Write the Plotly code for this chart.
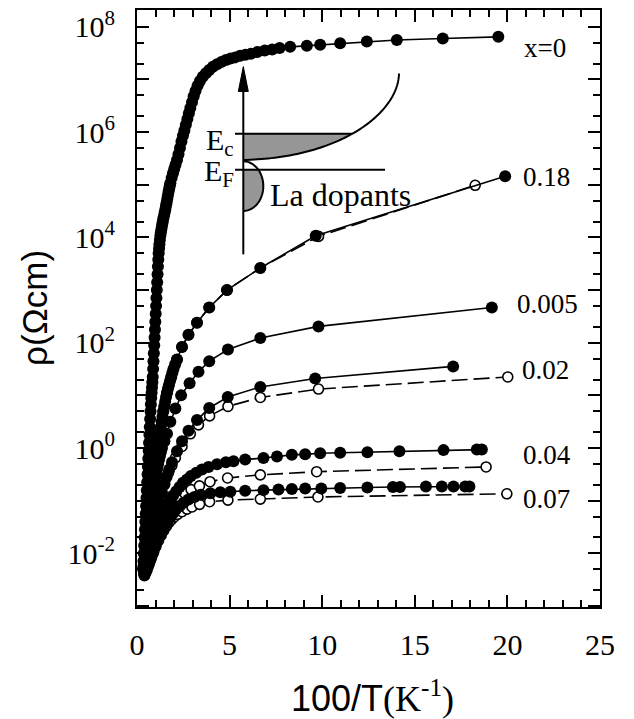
import numpy as np
import plotly.graph_objects as go

# ---------------- data (y stored as log10(rho / Ohm cm)) -------------
x_x0 = [0.33,0.35,0.37,0.39,0.41,0.43,0.45,0.47,0.49,0.51,0.53,0.55,0.57,0.59,0.61,0.63,0.65,0.67,0.69,0.71,0.73,0.75,0.77,0.79,0.81,0.83,0.85,0.87,0.89,0.91,0.93,0.95,0.97,0.99,1.01,1.03,1.05,1.07,1.09,1.11,1.13,1.15,1.17,1.19,1.21,1.235,1.26,1.29,1.32,1.35,1.38,1.41,1.45,1.49,1.53,1.565,1.60,1.635,1.67,1.705,1.74,1.77,1.80,1.87,1.94,2.01,2.08,2.16,2.24,2.32,2.40,2.48,2.56,2.64,2.72,2.80,2.88,2.97,3.06,3.16,3.27,3.40,3.55,3.72,3.90,4.10,4.32,4.55,4.80,5.05,5.30,5.57,5.85,6.15,6.50,6.90,7.30,7.70,8.27,9.17,9.89,10.97,12.41,14.03,16.51,19.51]
lg_x0 = [-2.3,-2.15,-2.0,-1.85,-1.7,-1.55,-1.4,-1.25,-1.1,-0.95,-0.8,-0.65,-0.5,-0.35,-0.2,-0.05,0.1,0.25,0.4,0.55,0.7,0.83,0.95,1.05,1.15,1.25,1.35,1.5,1.65,1.8,1.95,2.1,2.25,2.4,2.55,2.7,2.85,3.0,3.15,3.3,3.45,3.58,3.7,3.79,3.87,3.95,4.03,4.1,4.16,4.22,4.28,4.34,4.4,4.47,4.53,4.6,4.66,4.73,4.8,4.87,4.93,4.98,5.03,5.13,5.22,5.3,5.38,5.47,5.58,5.7,5.82,5.93,6.03,6.14,6.25,6.36,6.46,6.57,6.68,6.78,6.88,6.97,7.05,7.12,7.18,7.24,7.29,7.33,7.37,7.40,7.42,7.45,7.47,7.49,7.52,7.55,7.57,7.60,7.62,7.64,7.66,7.69,7.72,7.75,7.78,7.81]

x_018f = [0.35,0.375,0.40,0.425,0.45,0.475,0.50,0.525,0.55,0.58,0.61,0.64,0.67,0.70,0.73,0.765,0.80,0.835,0.87,0.905,0.94,0.975,1.01,1.045,1.08,1.12,1.16,1.20,1.24,1.285,1.33,1.375,1.42,1.47,1.52,1.57,1.62,1.675,1.73,1.79,1.85,1.91,1.97,2.06,2.16,2.43,2.78,3.24,3.90,4.86,6.66,9.65,19.88]
lg_018f = [-2.3,-2.22,-2.15,-2.07,-2.0,-1.92,-1.85,-1.77,-1.7,-1.6,-1.5,-1.4,-1.3,-1.2,-1.1,-1.0,-0.9,-0.8,-0.7,-0.6,-0.5,-0.4,-0.3,-0.2,-0.1,0.0,0.1,0.2,0.3,0.4,0.5,0.6,0.7,0.79,0.88,0.97,1.05,1.13,1.2,1.28,1.35,1.43,1.5,1.59,1.68,1.92,2.15,2.38,2.67,3.0,3.42,4.03,5.16]
x_018o = [0.35,0.45,0.55,0.67,0.80,0.94,1.08,1.24,1.42,1.62,1.85,2.16,2.43,2.78,3.24,3.90,4.86,6.66,9.80,18.26]
lg_018o = [-2.3,-2.0,-1.7,-1.3,-0.9,-0.5,-0.1,0.3,0.7,1.05,1.35,1.68,1.92,2.15,2.38,2.67,3.0,3.42,4.02,4.99]

x_005 = [0.35,0.385,0.42,0.455,0.49,0.525,0.56,0.595,0.63,0.665,0.70,0.735,0.77,0.805,0.84,0.875,0.91,0.945,0.98,1.02,1.06,1.10,1.14,1.19,1.24,1.295,1.35,1.48,1.62,1.80,2.07,2.38,2.84,3.32,3.90,4.91,6.66,9.80,19.16]
lg_005 = [-2.25,-2.17,-2.1,-2.02,-1.95,-1.87,-1.78,-1.69,-1.6,-1.5,-1.4,-1.3,-1.2,-1.1,-1.0,-0.9,-0.8,-0.71,-0.62,-0.53,-0.45,-0.37,-0.3,-0.22,-0.15,-0.07,0.0,0.13,0.27,0.5,0.75,1.0,1.23,1.45,1.65,1.87,2.09,2.31,2.67]

x_002f = [0.36,0.40,0.45,0.51,0.58,0.66,0.74,0.83,0.92,1.02,1.12,1.23,1.35,1.47,1.60,1.74,1.89,2.16,2.43,2.78,3.24,3.90,4.90,6.66,9.62,17.07]
lg_002f = [-2.3,-2.26,-2.22,-2.15,-2.08,-1.97,-1.85,-1.7,-1.55,-1.38,-1.2,-1.02,-0.85,-0.7,-0.55,-0.41,-0.27,-0.06,0.13,0.33,0.53,0.76,0.97,1.16,1.32,1.55]
x_002o = [0.38,0.48,0.60,0.72,0.86,1.00,1.15,1.32,1.50,1.70,1.88,2.07,2.43,2.88,3.32,3.92,4.91,6.66,9.80,20.02]
lg_002o = [-2.32,-2.2,-2.05,-1.87,-1.65,-1.42,-1.18,-0.92,-0.68,-0.47,-0.33,-0.19,0.03,0.27,0.44,0.61,0.79,0.96,1.12,1.35]

x_004f = [0.38,0.44,0.50,0.565,0.63,0.695,0.76,0.83,0.90,0.975,1.05,1.125,1.20,1.275,1.35,1.50,1.65,1.80,1.95,2.12,2.30,2.48,2.70,2.91,3.20,3.51,3.86,4.32,4.80,5.21,5.84,6.83,7.56,8.36,9.08,9.89,10.97,12.44,14.17,16.55,18.35,18.62]
lg_004f = [-2.38,-2.33,-2.27,-2.2,-2.13,-2.06,-1.98,-1.89,-1.80,-1.71,-1.62,-1.53,-1.45,-1.37,-1.30,-1.18,-1.07,-0.98,-0.90,-0.82,-0.74,-0.66,-0.60,-0.53,-0.47,-0.41,-0.36,-0.31,-0.27,-0.25,-0.22,-0.19,-0.16,-0.13,-0.12,-0.10,-0.09,-0.08,-0.06,-0.04,-0.03,-0.03]
x_004o = [0.40,0.52,0.65,0.78,0.92,1.06,1.21,1.37,1.54,1.72,1.90,2.07,2.30,2.58,2.92,3.37,3.94,4.89,6.66,9.70,18.85]
lg_004o = [-2.36,-2.24,-2.08,-1.92,-1.76,-1.61,-1.47,-1.35,-1.24,-1.15,-1.08,-1.02,-0.94,-0.86,-0.79,-0.72,-0.64,-0.57,-0.51,-0.45,-0.36]

x_007f = [0.40,0.46,0.52,0.585,0.65,0.715,0.78,0.845,0.91,0.975,1.04,1.17,1.30,1.44,1.62,1.80,1.98,2.12,2.30,2.52,2.78,3.10,3.45,3.96,4.50,5.04,5.84,6.83,7.64,8.36,9.08,9.95,10.97,12.44,13.82,14.20,15.60,16.46,17.09,17.72,17.95]
lg_007f = [-2.42,-2.37,-2.32,-2.26,-2.2,-2.13,-2.07,-2.0,-1.94,-1.87,-1.81,-1.7,-1.62,-1.54,-1.42,-1.32,-1.23,-1.16,-1.10,-1.04,-0.98,-0.93,-0.89,-0.86,-0.84,-0.83,-0.81,-0.80,-0.79,-0.78,-0.77,-0.77,-0.76,-0.75,-0.74,-0.74,-0.73,-0.73,-0.73,-0.73,-0.73]
x_007o = [0.42,0.52,0.62,0.75,0.88,1.02,1.16,1.30,1.44,1.58,1.72,1.86,2.01,2.19,2.43,2.70,2.97,3.38,3.92,4.91,6.66,9.77,19.97]
lg_007o = [-2.4,-2.32,-2.22,-2.1,-1.99,-1.87,-1.76,-1.66,-1.57,-1.49,-1.42,-1.36,-1.31,-1.26,-1.21,-1.16,-1.12,-1.07,-1.02,-0.99,-0.97,-0.93,-0.87]

series_labels = ["x=0", "0.18", "0.005", "0.02", "0.04", "0.07"]
x_ticks = [0, 5, 10, 15, 20, 25]
y_decades = list(range(-3, 9))

# ---------------- layout geometry (pixels) ----------------
W, H = 634, 719
PL, PR, PT, PB = 137, 600, 6, 607

def px(x):
    return (x - PL) / (PR - PL)

def py(y):
    return (PB - y) / (PB - PT)

SERIF = "Liberation Serif"
SANS = "Liberation Sans"
BLACK = "black"

fig = go.Figure()

def add(xs, lgs, filled, dashed):
    ys = [10 ** v for v in lgs]
    if filled:
        marker = dict(symbol="circle", size=12, color=BLACK, line=dict(width=0))
    else:
        marker = dict(symbol="circle", size=10, color="white", line=dict(width=1.6, color=BLACK))
    fig.add_trace(go.Scatter(
        x=xs, y=ys, mode="lines+markers", marker=marker,
        line=dict(color=BLACK, width=1.6, dash="16px,6px" if dashed else "solid"),
        showlegend=False, hoverinfo="skip"))

# open (dashed) series first, filled series on top
add(x_018o, lg_018o, False, True)
add(x_002o, lg_002o, False, True)
add(x_004o, lg_004o, False, True)
add(x_007o, lg_007o, False, True)
add(x_x0, lg_x0, True, False)
add(x_018f, lg_018f, True, False)
add(x_005, lg_005, True, False)
add(x_002f, lg_002f, True, False)
add(x_004f, lg_004f, True, False)
add(x_007f, lg_007f, True, False)

# ---------------- inset (schematic band diagram) ----------------
shapes = []
GRAY = "#969696"
AX = 243.3
EC_Y, EF_Y = 130.7, 166.7

P0, P1, P2, P3 = np.array([AX, 157.0]), np.array([340.0, 155.0]), np.array([398.0, 110.0]), np.array([399.0, 70.0])
t = np.linspace(0, 1, 80)[:, None]
bez = (1 - t) ** 3 * P0 + 3 * (1 - t) ** 2 * t * P1 + 3 * (1 - t) * t ** 2 * P2 + t ** 3 * P3

def path_from(pts, close=False):
    s = "M " + " L ".join(f"{px(a):.5f},{py(b):.5f}" for a, b in pts)
    return s + (" Z" if close else "")

below = bez[bez[:, 1] >= EC_Y]
x_int = below[-1, 0]
fill_pts = [(AX, EC_Y), (x_int, EC_Y)] + [tuple(p) for p in below[::-1]]
shapes.append(dict(type="path", xref="paper", yref="paper", path=path_from(fill_pts, True),
                   fillcolor=GRAY, line=dict(width=0), layer="above"))
shapes.append(dict(type="path", xref="paper", yref="paper", path=path_from([tuple(p) for p in bez]),
                   line=dict(color=BLACK, width=2), layer="above"))

cy, ry, rx = 183.3, 25.0, 20.0
ang = np.linspace(-np.pi / 2, np.pi / 2, 60)
ell = np.column_stack([AX + rx * np.cos(ang), cy + ry * np.sin(ang)])
low = ell[ell[:, 1] >= EF_Y]
xf = AX + rx * np.sqrt(max(0.0, 1 - ((EF_Y - cy) / ry) ** 2))
ell_fill = [(AX, EF_Y), (xf, EF_Y)] + [tuple(p) for p in low]
shapes.append(dict(type="path", xref="paper", yref="paper", path=path_from(ell_fill, True),
                   fillcolor=GRAY, line=dict(width=0), layer="above"))
shapes.append(dict(type="path", xref="paper", yref="paper", path=path_from([tuple(p) for p in ell]),
                   line=dict(color=BLACK, width=2), layer="above"))

shapes.append(dict(type="line", xref="paper", yref="paper", x0=px(235), x1=px(x_int), y0=py(EC_Y), y1=py(EC_Y),
                   line=dict(color=BLACK, width=2), layer="above"))
shapes.append(dict(type="line", xref="paper", yref="paper", x0=px(235), x1=px(385), y0=py(EF_Y), y1=py(EF_Y),
                   line=dict(color=BLACK, width=2), layer="above"))
shapes.append(dict(type="line", xref="paper", yref="paper", x0=px(AX), x1=px(AX), y0=py(252), y1=py(85),
                   line=dict(color=BLACK, width=2), layer="above"))
shapes.append(dict(type="path", xref="paper", yref="paper",
                   path=path_from([(AX, 63), (AX + 5, 88), (AX - 5, 88)], True),
                   fillcolor=BLACK, line=dict(color=BLACK, width=1), layer="above"))

annotations = []

def text(s, x, y, size, xanchor="center", yanchor="middle", family=SERIF, angle=0):
    annotations.append(dict(text=s, x=px(x), y=py(y), xref="paper", yref="paper",
                            xanchor=xanchor, yanchor=yanchor, showarrow=False, textangle=angle,
                            font=dict(family=family, size=size, color=BLACK)))

text("E<sub>c</sub>", 236, 139, 30, xanchor="right")
text("E<sub>F</sub>", 236, 170, 30, xanchor="right")
text("La dopants", 268, 192, 32, xanchor="left")

label_pos = [(522, 44), (521, 174), (515, 302), (520, 368), (521, 454), (521, 498)]
for lab, (lx, ly) in zip(series_labels, label_pos):
    text(lab, lx, ly, 27, xanchor="left")

text("ρ(Ωcm)", 34, 306, 35, angle=-90, family=SANS)
text("<span style='font-family:Liberation Sans'>100/T</span>(K<sup>-1</sup>)", 372, 697, 36)

ytext = [("10<sup>%d</sup>" % d) if d % 2 == 0 else "" for d in y_decades]
minor_y = [m * 10.0 ** d for d in y_decades for m in (2, 5)]

axis_common = dict(showline=True, linewidth=2, linecolor=BLACK, mirror="ticks", ticks="inside",
                   tickcolor=BLACK, tickwidth=1.6, ticklen=12, showgrid=False, zeroline=False,
                   tickfont=dict(family=SERIF, size=30, color=BLACK))

fig.update_layout(
    width=W, height=H, margin=dict(l=PL, r=W - PR, t=PT, b=H - PB),
    paper_bgcolor="white", plot_bgcolor="white",
    xaxis=dict(range=[0, 25], tickmode="array", tickvals=x_ticks,
               minor=dict(dtick=1, ticks="inside", ticklen=7, tickcolor=BLACK, tickwidth=1.6),
               ticklabelstandoff=10, **axis_common),
    yaxis=dict(type="log", range=[-3.02, 8.32], tickmode="array",
               tickvals=[10.0 ** d for d in y_decades], ticktext=ytext,
               minor=dict(tickmode="array", tickvals=minor_y, ticks="inside", ticklen=7,
                          tickcolor=BLACK, tickwidth=1.6),
               ticklabelstandoff=14, **axis_common),
    shapes=shapes, annotations=annotations,
)

fig.write_html("out.html", config={"displayModeBar": False})
